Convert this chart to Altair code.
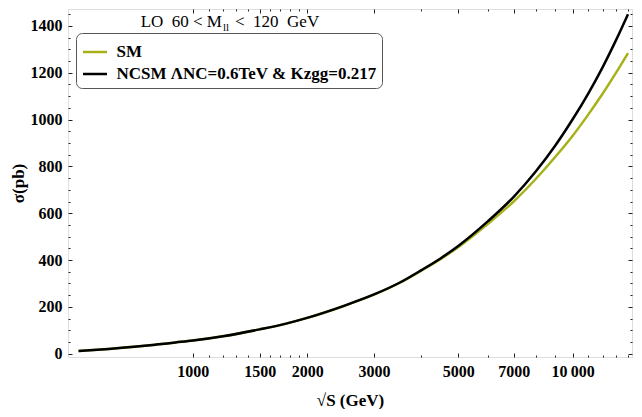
import altair as alt
import pandas as pd

# ---- data ----
sqrt_s = [500, 600, 700, 800, 900, 1000, 1200, 1500, 1750, 2000, 2500, 3000,
          3500, 4000, 4500, 5000, 6000, 7000, 8000, 9000, 10000, 11000, 12000,
          13000, 14000]
sigma_sm = [12, 20.5, 29.5, 39, 48, 56, 74.5, 104, 127.5, 153, 204, 252,
            302, 355, 405, 455, 556, 650, 746, 840, 930, 1021, 1110,
            1198, 1284]
sigma_ncsm = [12, 20.5, 29.5, 39, 48, 56, 74.5, 104, 127.5, 153, 204.5, 253,
              303, 357, 408, 460, 567, 670, 778, 888, 1000, 1111, 1223,
              1337, 1450]
series_names = ["SM", "NCSM ΛNC=0.6TeV & Kzgg=0.217"]
series_colors = ["#a7b21b", "#000000"]

x_major = [1000, 1500, 2000, 3000, 5000, 7000, 10000]
x_minor = [1100, 1200, 1300, 1400, 1600, 1700, 1800, 1900, 4000, 6000,
           8000, 9000, 11000, 12000, 13000, 14000]
y_major = [0, 200, 400, 600, 800, 1000, 1200, 1400]
y_minor = [v for v in range(50, 1451, 50) if v % 200 != 0]

title_parts = ["LO\u00a0\u00a060\u00a0<\u00a0M", "ll", "<\u00a0\u00a0120\u00a0\u00a0GeV"]

rows = []
for name, vals in zip(series_names, [sigma_sm, sigma_ncsm]):
    for s, v in zip(sqrt_s, vals):
        rows.append({"sqrt_s": s, "sigma": v, "series": name})
df = pd.DataFrame(rows)

SERIF = "Liberation Serif"
xscale = alt.Scale(type="log", domain=[469, 14344], nice=False)
yscale = alt.Scale(domain=[-14, 1472], nice=False, zero=False)
cscale = alt.Scale(domain=series_names, range=series_colors)

MAJ, MIN = 4, 2


def ax(**kw):
    base = dict(domain=False, grid=False, tickColor="#222", tickWidth=1)
    base.update(kw)
    return alt.Axis(**base)


legend = alt.Legend(
    orient="none", legendX=8, legendY=24, title=None,
    symbolType="stroke", symbolSize=576, symbolStrokeWidth=2.5,
    labelFont=SERIF, labelFontWeight="bold", labelFontSize=17,
    labelColor="black", labelLimit=0, labelOffset=8,
    strokeColor="#555", cornerRadius=6, fillColor="white",
    padding=5.5, rowPadding=0,
)

x_main = alt.X("sqrt_s:Q", scale=xscale, axis=ax(
    values=x_major, tickSize=MAJ, offset=-MAJ, labelPadding=6,
    labelExpr="datum.value == 10000 ? '10\u2009000' : format(datum.value, 'd')",
    labelFont=SERIF, labelFontWeight="bold", labelFontSize=16, labelColor="black",
    labelFlush=False, labelOverlap=False,
    title="√S (GeV)", titleFont=SERIF, titleFontSize=17, titleFontWeight="bold",
    titleColor="black", titlePadding=13))
y_main = alt.Y("sigma:Q", scale=yscale, axis=ax(
    values=y_major, tickSize=MAJ, offset=-MAJ, labelPadding=6, format="d",
    labelFont=SERIF, labelFontWeight="bold", labelFontSize=16, labelColor="black",
    labelFlush=False, labelOverlap=False,
    title="σ(pb)", titleFont=SERIF, titleFontSize=17, titleFontWeight="bold",
    titleColor="black", titlePadding=3))

sm_layer = alt.Chart(df).transform_filter(alt.datum.series == series_names[0]).mark_line(
    strokeWidth=2.5, interpolate="monotone").encode(
    x=x_main, y=y_main,
    color=alt.Color("series:N", scale=cscale, legend=legend))

nc_layer = alt.Chart(df).transform_filter(alt.datum.series == series_names[1]).mark_line(
    strokeWidth=2.5, interpolate="monotone").encode(
    x=alt.X("sqrt_s:Q", scale=xscale, axis=None),
    y=alt.Y("sigma:Q", scale=yscale, axis=None),
    color=alt.Color("series:N", scale=cscale, legend=legend))


def tick_layer(xvals, yvals, xorient, yorient, size):
    return alt.Chart(df).mark_line(opacity=0).encode(
        x=alt.X("sqrt_s:Q", scale=xscale, axis=ax(
            values=xvals, orient=xorient, tickSize=size, offset=-size,
            labels=False, title=None)),
        y=alt.Y("sigma:Q", scale=yscale, axis=ax(
            values=yvals, orient=yorient, tickSize=size, offset=-size,
            labels=False, title=None)),
        detail="series:N")


minor_bl = tick_layer(x_minor, y_minor, "bottom", "left", MIN)
major_tr = tick_layer(x_major, y_major, "top", "right", MAJ)
minor_tr = tick_layer(x_minor, y_minor, "top", "right", MIN)

t1 = alt.Chart(pd.DataFrame({"t": [title_parts[0]]})).mark_text(
    align="right", baseline="alphabetic", font=SERIF, fontSize=17, color="black"
).encode(x=alt.value(154), y=alt.value(18), text="t:N")
t2 = alt.Chart(pd.DataFrame({"t": [title_parts[1]]})).mark_text(
    align="left", baseline="alphabetic", font=SERIF, fontSize=11, color="black"
).encode(x=alt.value(155), y=alt.value(21.5), text="t:N")
t3 = alt.Chart(pd.DataFrame({"t": [title_parts[2]]})).mark_text(
    align="left", baseline="alphabetic", font=SERIF, fontSize=17, color="black"
).encode(x=alt.value(167), y=alt.value(18), text="t:N")

chart = alt.layer(
    minor_bl, major_tr, minor_tr, sm_layer, nc_layer, t1, t2, t3
).resolve_axis(x="independent", y="independent").properties(
    width=564, height=348,
    autosize=alt.AutoSizeParams(type="none"),
    padding={"left": 60, "top": 1, "right": 2, "bottom": 52},
).configure_view(stroke="#333", strokeWidth=1).configure(background="white")

chart.save("out.html", embed_options={"renderer": "svg", "actions": False})
